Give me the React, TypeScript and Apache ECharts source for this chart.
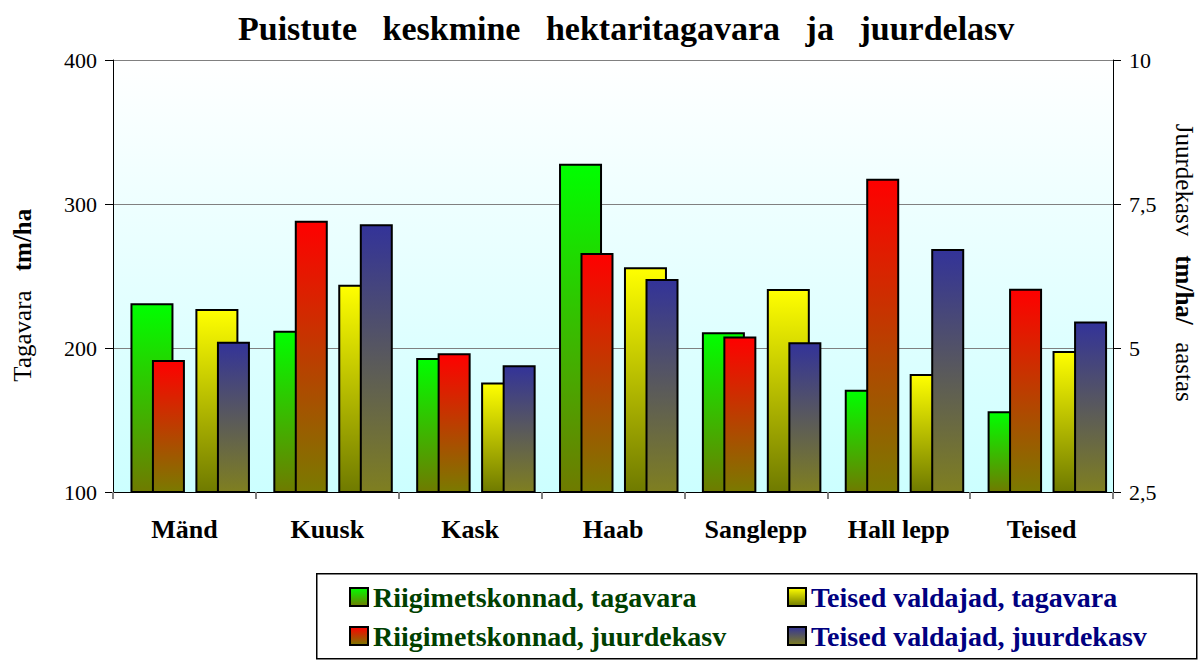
import React, { useEffect, useRef } from "react";
import * as echarts from "echarts";

const categories = ["Mänd", "Kuusk", "Kask", "Haab", "Sanglepp", "Hall lepp", "Teised"];
const riigiTagavara = [231, 212, 193, 328, 211, 171, 156];
const teisedTagavara = [227, 244, 176, 256, 241, 182, 198];
const riigiJuurdekasv = [4.79, 7.21, 4.91, 6.65, 5.2, 7.94, 6.03];
const teisedJuurdekasv = [5.11, 7.15, 4.7, 6.2, 5.1, 6.72, 5.46];
const leftTicks = { min: 100, max: 400, interval: 100 };
const rightTicks = { min: 2.5, max: 10, interval: 2.5 };
const seriesNames = [
  "Riigimetskonnad, tagavara",
  "Teised valdajad, tagavara",
  "Riigimetskonnad, juurdekasv",
  "Teised valdajad, juurdekasv",
];

const SERIF = "Liberation Serif";

const grad = (top: string, bottom: string) =>
  new echarts.graphic.LinearGradient(0, 0, 0, 1, [
    { offset: 0, color: top },
    { offset: 1, color: bottom },
  ]);

export default function App() {
  const ref = useRef<HTMLDivElement>(null);
  useEffect(() => {
    if (!ref.current) return;
    const chart = echarts.init(ref.current, null, { renderer: "svg" });
    const barBorder = { borderColor: "#000", borderWidth: 2 };
    const legendText = { fontFamily: SERIF, fontWeight: "bold", fontSize: 28, lineHeight: 22 };
    const mkLegend = (name: string, left: number, top: number, color: string) => ({
      left, top, orient: "horizontal", itemWidth: 18, itemHeight: 18, icon: "rect",
      data: [{ name, textStyle: { ...legendText, color } }],
    });
    const nameText = (text: string, x: number, y: number, rot: number, bold: boolean) => ({
      type: "text", x, y, rotation: rot,
      style: {
        text, fill: "#000",
        fontFamily: SERIF, fontSize: 25, fontWeight: bold ? "bold" : "normal",
        align: "center", verticalAlign: "middle",
      },
    });
    chart.setOption({
      animation: false,
      backgroundColor: "#fff",
      title: {
        text: "Puistute   keskmine   hektaritagavara   ja   juurdelasv",
        left: 233,
        top: 6,
        textStyle: { fontFamily: SERIF, fontWeight: "bold", fontSize: 34, color: "#000" },
      },
      grid: [
        {
          left: 113, top: 60, width: 1000, height: 432, show: true, borderWidth: 0,
          backgroundColor: grad("#ffffff", "#ccffff"),
        },
        { left: 129.5, top: 60, width: 1000, height: 432 },
      ],
      legend: [
        mkLegend(seriesNames[0], 344, 578, "#004000"),
        mkLegend(seriesNames[2], 344, 617, "#004000"),
        mkLegend(seriesNames[1], 782, 578, "#000080"),
        mkLegend(seriesNames[3], 782, 617, "#000080"),
      ],
      xAxis: [
        {
          type: "category", gridIndex: 0, data: categories,
          axisLine: { lineStyle: { color: "#000", width: 1 } },
          axisTick: { show: true, length: 7, lineStyle: { color: "#808080", width: 2 } },
          axisLabel: { margin: 24, fontFamily: SERIF, fontWeight: "bold", fontSize: 26, color: "#000" },
        },
        { type: "category", gridIndex: 1, data: categories, show: false },
      ],
      yAxis: [
        {
          type: "value", gridIndex: 0, position: "left", ...leftTicks,
          axisLine: { show: true, lineStyle: { color: "#000", width: 1 } },
          axisTick: { show: true, length: 8, lineStyle: { color: "#000" } },
          splitLine: { show: true, lineStyle: { color: "#808080", width: 1 } },
          axisLabel: { margin: 16, fontFamily: SERIF, fontSize: 22, color: "#000" },
        },
        {
          type: "value", gridIndex: 0, position: "right", ...rightTicks,
          axisLine: { show: true, lineStyle: { color: "#000", width: 1 } },
          axisTick: { show: true, length: 8, lineStyle: { color: "#000" } },
          splitLine: { show: false },
          axisLabel: {
            margin: 16, fontFamily: SERIF, fontSize: 22, color: "#000",
            formatter: (v: number) => String(v).replace(".", ","),
          },
        },
        { type: "value", gridIndex: 1, ...rightTicks, show: false, splitLine: { show: false } },
      ],
      series: [
        {
          name: seriesNames[0], type: "bar", xAxisIndex: 0, yAxisIndex: 0,
          data: riigiTagavara, barWidth: 43, barGap: "51%",
          itemStyle: { color: grad("#00ff00", "#6f7a00"), ...barBorder },
        },
        {
          name: seriesNames[1], type: "bar", xAxisIndex: 0, yAxisIndex: 0,
          data: teisedTagavara, barWidth: 43, barGap: "51%",
          itemStyle: { color: grad("#ffff00", "#6f7a00"), ...barBorder },
        },
        {
          name: seriesNames[2], type: "bar", xAxisIndex: 1, yAxisIndex: 2,
          data: riigiJuurdekasv, barWidth: 33, barGap: "97%",
          itemStyle: { color: grad("#ff0000", "#7a7a00"), ...barBorder },
        },
        {
          name: seriesNames[3], type: "bar", xAxisIndex: 1, yAxisIndex: 2,
          data: teisedJuurdekasv, barWidth: 33, barGap: "97%",
          itemStyle: { color: grad("#333399", "#7f7f20"), ...barBorder },
        },
      ],
      graphic: [
        {
          type: "rect", left: 316, top: 573, z: -1,
          shape: { width: 880, height: 85 },
          style: { fill: "#fff", stroke: "#000", lineWidth: 1.5 },
        },
        nameText("Tagavara", 22, 336, Math.PI / 2, false),
        nameText("tm/ha", 22, 240, Math.PI / 2, true),
        nameText("Juurdekasv", 1184, 180, -Math.PI / 2, false),
        nameText("tm/ha/", 1184, 290, -Math.PI / 2, true),
        nameText("aastas", 1184, 372, -Math.PI / 2, false),
      ],
    });
    return () => chart.dispose();
  }, []);
  return (
    <div
      ref={ref}
      style={{ position: "fixed", left: 0, top: 0, width: 1201, height: 660 }}
    />
  );
}
